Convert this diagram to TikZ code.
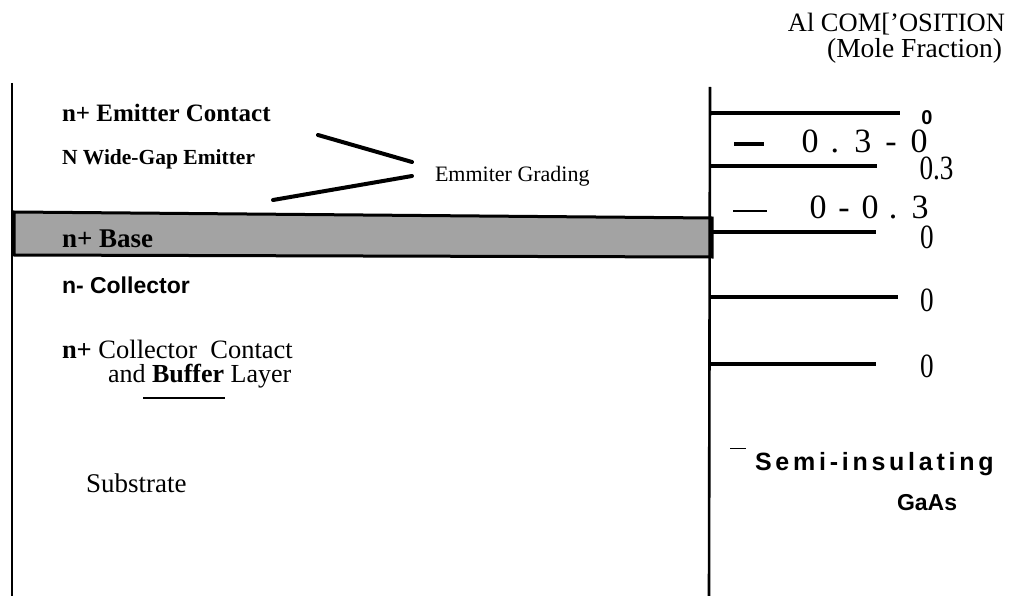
\documentclass[tikz,border=0pt]{standalone}
\usepackage{fontspec}
\usepackage{graphicx}
\setmainfont{Liberation Serif}
\newfontfamily\arial{Liberation Sans}
\newfontfamily\arialsp[LetterSpace=15]{Liberation Sans}
\newcommand\fsz[1]{\fontsize{#1}{#1}\selectfont}
\newcommand\narrowtxt[1]{\scalebox{0.8}[1]{#1}}
\begin{document}
\begin{tikzpicture}[x=1pt,y=-1pt,
 txt/.style={inner sep=0pt, outer sep=0pt, anchor=base west},
 rtxt/.style={inner sep=0pt, outer sep=0pt, anchor=base east},
 ctxt/.style={inner sep=0pt, outer sep=0pt, anchor=base},
 axisline/.style={line width=2.6pt},
 level/.style={line width=4pt},
 grade/.style={line width=4pt, line cap=round},
 ]
\useasboundingbox (0,0) rectangle (1010,596);
\fill[white] (0,0) rectangle (1010,596);

% base layer (shaded)
\filldraw[fill=black!36, line width=3pt] (14,212) -- (712,218) -- (712,257) -- (14,255) -- cycle;

% vertical axes
\coordinate (Ltop) at (12,83);
\coordinate (Lbot) at (12,596);
\coordinate (Rtop) at (710,87);
\coordinate (Rbot) at (709,596);
\draw[axisline] (Ltop) -- (Lbot);
\draw[axisline] (Rtop) -- (Rbot);

% composition levels
\coordinate (l1a) at (710,113); \coordinate (l1b) at (900,113);
\coordinate (l2a) at (710,166); \coordinate (l2b) at (877,166);
\coordinate (l3a) at (711,232); \coordinate (l3b) at (876,232);
\coordinate (l4a) at (709,297); \coordinate (l4b) at (898,297);
\coordinate (l5a) at (709,364); \coordinate (l5b) at (876,364);
\draw[level] (l1a) -- (l1b);
\draw[level] (l2a) -- (l2b);
\draw[level] (l3a) -- (l3b);
\draw[level] (l4a) -- (l4b);
\draw[level] (l5a) -- (l5b);

% dashes
\coordinate (d1a) at (734,144); \coordinate (d1b) at (764,144);
\coordinate (d2a) at (733,211); \coordinate (d2b) at (767,211);
\coordinate (d3a) at (730,448); \coordinate (d3b) at (746,448);
\draw[line width=4pt] (d1a) -- (d1b);
\draw[line width=1.3pt] (d2a) -- (d2b);
\draw[line width=1pt] (d3a) -- (d3b);

% grading lines
\coordinate (g1a) at (318,135); \coordinate (g1b) at (412,162);
\coordinate (g2a) at (273,200); \coordinate (g2b) at (412,176);
\draw[grade] (g1a) -- (g1b);
\draw[grade] (g2a) -- (g2b);

% underline
\coordinate (u1) at (143,398); \coordinate (u2) at (225,398);
\draw[line width=1.3pt] (u1) -- (u2);

% left texts
\node[txt,font=\fsz{25}\bfseries] (emc) at (62,122) {n+ Emitter Contact};
\node[txt,font=\fsz{21.5}\bfseries] (wge) at (62,165) {N Wide-Gap Emitter};
\node[txt,font=\fsz{22}] (grad) at (435,182) {Emmiter Grading};
\node[txt,font=\fsz{27}\bfseries] (base) at (62,248) {n+ Base};
\node[txt,font=\arial\fsz{23}\bfseries] (coll) at (62,294) {n- Collector};
\node[txt,font=\fsz{26.5}] (cc1) at (62,358) {\textbf{n+} Collector\ \ Contact};
\node[txt,font=\fsz{26}] (cc2) at (108,382) {and \textbf{Buffer} Layer};
\node[txt,font=\fsz{27}] (sub) at (86,492) {Substrate};

% title
\node[rtxt,font=\fsz{26.5}] (t1) at (1005,32) {Al COM['OSITION};
\node[rtxt,font=\fsz{27.5}] (t2) at (1002,58) {(Mole Fraction)};

% right labels
\node[ctxt,font=\arial\fsz{20}\bfseries] (z0) at (927,125) {0};
\node[txt,font=\fsz{34}] (seq1) at (801.5,153) {0\hspace{12.25pt}.\hspace{15.25pt}3\hspace{13.85pt}-\hspace{13.85pt}0};
\node[ctxt,font=\fsz{34}] (z03) at (936.5,180) {\narrowtxt{0.3}};
\node[txt,font=\fsz{34}] (seq2) at (809.5,219) {0\hspace{11.85pt}-\hspace{11.85pt}0\hspace{10.25pt}.\hspace{14.25pt}3};
\node[ctxt,font=\fsz{34}] (z1) at (927,249) {\narrowtxt{0}};
\node[ctxt,font=\fsz{34}] (z2) at (927,312) {\narrowtxt{0}};
\node[ctxt,font=\fsz{34}] (z3) at (927,377) {\narrowtxt{0}};
\node[txt,font=\arialsp\fsz{25}\bfseries] (semi) at (755,470) {Semi-insulating};
\node[txt,font=\arial\fsz{23}\bfseries] (gaas) at (897,510) {GaAs};
\end{tikzpicture}
\end{document}
